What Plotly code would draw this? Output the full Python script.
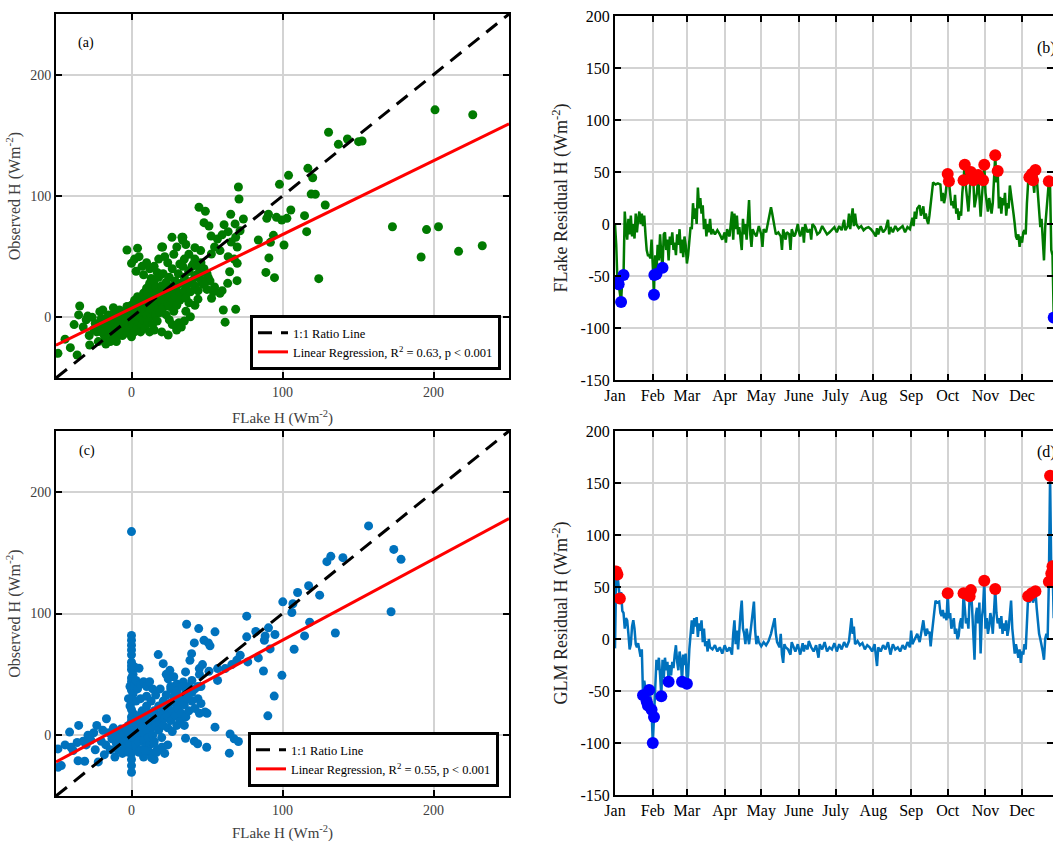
import plotly.graph_objects as go

# ---------------- DATA ----------------
# Panel (a): FLake H vs observed H  (pairs)
scatter_a = [
    (201,171),(226,167),(130.5,152.5),(137,142.6),(143,147),(150.4,144.8),(152.7,145.3),(116.8,122.8),
    (120,115),(104,117),(98,109.6),(119,101.6),(121.7,101.4),(128.3,92.6),(105.5,88.5),(114.6,83.8),
    (116,70.6),(90.7,85),(89.6,81.6),(96,82.4),(99.5,80.2),(102.9,81.6),(84,63.7),(92,61.8),(94,67.6),
    (91,49),(101,59.6),(89,37),(94.7,32.7),(124,31.9),(172.8,74.7),(195.4,72.3),(203.3,74.7),(191.8,49.7),
    (216.6,54.4),(232.3,59),
    (70.8,107.4),(71.2,97.5),(65.7,85),(74.1,81),(68.6,77),(71.9,71.4),(64,70.6),(69,66),(66,62),(70,58),
    (64,50),(68,48),(70,44.5),(65,37.6),(63.7,28),(69.9,30.2),(60.8,6),(62,-4),(69,6.6),(44.7,90.7),
    (48.9,87.4),(48,78),(51.3,75.3),(52.7,67),(56.9,64.6),(52.9,52.2),(58.6,55),(61.3,76.4),(60,68),
    (55,58),(45.8,55),(42,57.4),(50.9,32.7),(54.2,21),(58.6,19.8),(50,23),(53,15.7),(47,28),(45,35),
    (48,40),(52,30),(55,25),(60,22),(46,45),(42,48),(40,42),(38,52),(36,60),(34,66),(33.8,63.7),
    (26.8,66),(33.4,66),(30,58),(28,52),(35,48),(32,44),(38,38),(42,33),(44,22),
    (-3,55.5),(4,57),(0,44.5),(2,48),(5,50),(7,42),(10,45),(12,40),(3,38),(8,35),(15,42),(18,48),
    (20,58),(22,50),(24,45),(20.6,58),(17,37),(13,32),
    (24.3,-14.6),(15,-10.4),(29.9,-10.4),(31.4,-4.4),(35,-3),(39,0.5),(20,-12),(27,-6),(33,-8),(25,-2),
    (36,5),(42,10),(44,15),(38,12),
    (-48.7,-29.7),(-40.5,-25),(-36,-31),(-38,-6),(-35,2),(-34.3,9.3),(-30,-2),(-29,1),(-27.7,-22.8),
    (-25,-10),(-24,-5),(-22,-20),(-21,4.7),(-20,-1),(-20,-8),(-18,-15),(-17,-22),(-16,-5),(-15,2),
    (-14,-12),(-13,-18),(-12,8),(-12,-3),(-11,-9),(-10,-20),(-10,1),(-9,4),(-8,-14),(-32,-8),(-28,-15),
    (-26,0),(-23,-12),(-19,6),(-44,-18),
    (-20,-12),(-18,-5),(-17,-18),(-16,0),(-15,-10),(-14,-20),(-13,-4),(-12,-14),(-11,3),(-10,-8),
    (-10,-17),(-9,-2),(-8,-12),(-8,6),(-7,-6),(-6,-15),(-6,1),(-5,-9),(-4,4),(-4,-3),(-3,-13),(-3,9),
    (-2,-6),(-2,2),(-1,-10),(-1,6),(0,-3),(0,-16),(0,10),(1,1),(1,-7),(2,5),(2,-12),(2,14),(3,-2),(3,8),
    (4,-8),(4,1),(4,17),(5,4),(5,-4),(5,11),(6,-12),(6,0),(6,8),(7,14),(7,-6),(7,3),(8,20),(8,-2),(8,10),
    (9,5),(9,-9),(9,15),(10,2),(10,24),(10,9),(11,-4),(11,13),(11,19),(12,6),(12,-12),(12,28),(13,1),
    (13,11),(13,16),(14,22),(14,5),(14,-6),(15,9),(15,14),(15,30),(16,2),(16,18),(16,25),(17,7),(17,12),
    (17,-3),(18,21),(18,10),(18,33),(19,15),(19,4),(20,26),(20,12),(20,19),(21,8),(21,36),(22,16),
    (22,23),(23,2),(23,29),(24,12),(24,20),(25,33),(25,9),(26,18),(26,25),(27,40),(27,14),(28,22),(28,5),
    (29,30),(29,17),(30,26),(30,10),(31,36),(32,20),(32,14),(33,28),(34,42),(35,22),(35,33),(36,16),
    (37,27),(38,38),(39,21),(40,30),(41,44),(42,26),(43,35),(44,22),(45,40),(46,31),(48,27),(50,36),
]

# Panel (c): GLM-run scatter (pairs)
scatter_c = [
    (0,167.3),(157,172),(173.7,152.7),(178.5,144.5),(171.9,101.4),(140,145.9),(132,147),(129.4,142.6),
    (117.3,122.8),(110,117.3),(124.6,115.1),(100.2,109.6),(106.9,108),(106.2,100.8),(118,92.9),
    (114.6,81.6),(135,84),(107.7,70.6),(76.3,97.8),(76.3,80.8),(82.3,85.2),(90.7,88.2),(95,82.7),
    (88.5,81.6),(88,78),(91.8,70.9),(84,63.5),(77,60.2),(72,65.7),(69.7,61.5),(66.4,58),(62,54.7),
    (57,54.7),(87.4,52.7),(99.6,49.2),(94.5,32.1),(90.3,15.9),(89.2,-3),(65.3,1),(70.8,-5.2),(64.8,-14.8),
    (68,-3),(49.8,-9.9),(43.8,-7.1),(41.6,-4.9),(35.8,-2.5),(55.3,6.6),(48.7,19),(50,18),(57,45),
    (44.5,87.6),(36.5,91.2),(55.3,84.9),(48,78),(50.9,75.8),(52,73.4),(41.6,75.8),(39.8,67),(38.7,61.5),
    (44.9,54.7),(45,50),(51.3,52.5),(17.7,66.2),(21,58.8),(25.4,53.3),(23,50),(35.8,52),(34.3,43.7),
    (38,40),(24.3,46.4),(28,48),(30,42),(40,45),(42,38),(44,30),(46,26),(40,28),(36,35),(33,30),(30,25),
    (28,32),(26,38),(46,40),(47,58),
    (0,82),(0,78),(0,74),(0,70),(0,66),(0,60),(0,57),(0,54),(1,50),(0,47),(0,44),(-1,40),(0,37),(1,34),
    (0,30),(0,27),(-1,24),(0,21),(1,18),(0,15),(0,12),(0,9),(1,6),(0,3),(0,0),(-1,-3),(0,-6),(0,-9),
    (1,-12),(0,-15),(0,-20),(0,-25),(0,-30.5),(2,56),(2,42),(3,28),(-2,30),(2,12),(-2,8),(3,45),(4,38),
    (5,55),(6,42),(8,44),(10,40),(12,44),(14,38),(10,32),(6,30),
    (-48.7,-11.3),(-48.7,-26.4),(-46.5,-25),(-41,2.5),(-35,8),(-38.7,-12.6),(-35.4,-21),(-31,-21.4),
    (-22,-22),(-23,8),(-16.6,13.5),(-28.8,0),(-32,-5),(-44,-8),(-40,-10),(-36,-6),(-30,-8),(-27,-4),
    (-25,2),(-24,-12),(-20,-5),(-19,4),(-18,-16),(-17,-8),(-15,2),(-14,-12),(-13,-3),(-12,6),(-11,-18),
    (-10,-7),(-10,2),(-9,-12),(-8,-2),(-7,5),(-6,-15),(-6,-6),(-5,1),(-4,-10),(-3,-4),(-3,4),(-2,-14),
    (-1,-7),
    (2,-3),(2,4),(3,-8),(3,10),(4,0),(4,16),(5,-5),(5,6),(6,12),(6,-12),(7,2),(7,20),(8,-4),(8,8),(9,14),
    (9,-10),(10,4),(10,24),(11,-2),(11,10),(12,18),(12,-8),(13,6),(13,28),(14,12),(14,0),(15,20),(15,-5),
    (16,8),(16,33),(17,15),(17,-12),(18,24),(18,4),(19,10),(19,38),(20,18),(20,-2),(21,28),(21,8),
    (22,14),(22,-15),(23,22),(23,33),(24,6),(24,16),(25,26),(26,12),(26,40),(27,20),(27,3),(28,30),
    (29,16),(30,8),(30,36),(31,22),(32,12),(32,28),(33,18),(34,40),(35,25),(35,8),(36,15),(37,30),
    (38,20),(40,35),(42,22),(44,40),(45,18),(18,-12),(14,-16),(20,-10),(24,-8),(12,-14),(8,-18),(15,-20),
    (5,-14),(14.8,-6.6),(13.3,-18.7),(8.8,-12.6),(20.6,-9.9),(16.6,-14),
]

ratio_x = [-50, 250]
ratio_y = [-50, 250]
reg_a_x = [-50, 250]
reg_a_y = [-23, 159.5]
reg_c_x = [-50, 250]
reg_c_y = [-22, 178]
legend_a_text = "Linear Regression, R<sup>2</sup> = 0.63, p &lt; 0.001"
legend_c_text = "Linear Regression, R<sup>2</sup> = 0.55, p &lt; 0.001"

# Panel (b): FLake residual time series (day of year, W m-2)
flake_resid = [
    (0,0),(1,-20),(2,-55),(3,-58),(5,-75),(6,-52),(7,-49),(8,12),(9,-5),(10,-15),(11,5),(12,-10),(13,8),
    (14,-12),(15,0),(16,-14),(17,10),(18,-8),(19,5),(20,12),(21,0),(22,10),(23,-2),(24,8),(25,-10),
    (26,-25),(27,-30),(28,-30),(29,-33),(30,-15),(31,-40),(32,-68),(32.3,-49),(33,-30),(34,-48),(35,-20),
    (36,-35),(37,-10),(38,-30),(39,-42),(40,-10),(41,-8),(42,-25),(43,-15),(44,-35),(45,-12),(46,-20),
    (47,-8),(48,-25),(49,-18),(50,-30),(51,-10),(52,-20),(53,-5),(54,-28),(55,-15),(56,-32),(57,-12),
    (58,-20),(59,-38),(60,-30),(61,-15),(62,-3),(63,-5),(64,20),(65,5),(66,15),(67,0),(68,35),(69,15),
    (70,25),(71,10),(72,18),(73,-5),(74,5),(75,-12),(76,0),(77,-8),(78,5),(79,-10),(80,-5),(82,-10),
    (84,-6),(86,-10),(88,-15),(90,-8),(91,-18),(92,-5),(94,-12),(96,12),(97,-15),(98,10),(99,-5),
    (100,8),(101,-10),(102,-3),(104,-25),(105,5),(106,-10),(107,0),(108,-15),(110,23),(111,-10),
    (112,-22),(113,-5),(114,-8),(116,-12),(118,-2),(120,-10),(121,-22),(122,-5),(124,-8),(126,5),
    (128,16),(129,10),(130,2),(131,-5),(132,-10),(134,-8),(136,-12),(137,-25),(138,-5),(140,-15),
    (141,-8),(143,-10),(144,-25),(145,-5),(147,-12),(148,-10),(150,0),(151,-8),(152,-12),(154,-3),
    (155,-18),(156,0),(158,-8),(160,-5),(161,-15),(162,0),(164,-3),(166,-10),(168,-8),(170,-2),
    (172,-6),(174,-10),(176,-8),(178,-5),(180,-3),(182,-8),(184,-2),(186,-6),(188,4),(189,-6),(191,-2),
    (192,10),(193,-5),(195,15),(196,-2),(197,10),(198,0),(200,-4),(202,-2),(204,-6),(206,-4),(208,-3),
    (210,-5),(212,-8),(214,-12),(215,-4),(216,-10),(218,-2),(220,-8),(222,-5),(224,4),(225,-10),
    (226,-3),(228,-8),(230,-2),(232,-6),(234,-4),(236,-2),(238,-8),(240,-3),(242,-5),(244,6),(245,-2),
    (246,12),(247,5),(248,15),(250,18),(251,8),(252,12),(253,17),(254,5),(255,10),(256,4),(257,0),
    (258,8),(259,20),(260,30),(261,40),(263,38),(265,39),(267,38),(268,22),(269,30),(270,20),(271,26),
    (272,35),(273,48),(274,41),(275,25),(276,18),(277,22),(278,15),(279,28),(280,10),(281,15),(282,4),
    (283,12),(284,8),(285,30),(286,42),(287,57),(288,35),(289,20),(290,12),(291,30),(292,50),(293,45),
    (294,42),(295,16),(296,25),(297,30),(298,47),(299,20),(300,7),(301,25),(302,42),(303,57),(304,30),
    (305,20),(306,12),(307,25),(308,15),(309,10),(310,20),(311,45),(312,66),(313,40),(314,51),(315,15),
    (316,26),(317,10),(318,25),(319,18),(320,30),(321,8),(322,20),(323,15),(324,37),(325,28),(326,15),
    (327,10),(328,0),(329,-12),(330,-15),(331,-10),(332,-22),(333,-12),(334,-18),(335,-8),(336,-6),
    (337,-10),(338,20),(339,40),(340,45),(341,38),(342,48),(343,42),(344,30),(345,52),(346,45),(347,26),
    (348,15),(349,-3),(350,5),(351,-20),(352,-35),(353,-3),(354,10),(355,20),(356,41),(357,35),
    (358,-25),(359,-30),(360,-90),(361,-60),
]
flake_high = [(273,48),(274,41),(286,42),(287,57),(292,50),(294,42),(298,47),(302,42),(303,57),
              (312,66),(314,51),(340,45),(342,48),(343,42),(345,52),(356,41)]
flake_low = [(2,-55),(3,-58),(5,-75),(7,-49),(32,-68),(32.3,-49),(34,-48),(39,-42),(360,-90)]

# Panel (d): GLM residual time series (day of year, W m-2)
glm_resid = [
    (0,-9),(1,65),(2,62),(3,50),(4,39),(5,45),(6,27),(7,25),(8,10),(9,20),(10,18),(11,5),(12,-10),
    (13,-5),(14,12),(15,18),(16,10),(17,-5),(18,-8),(19,-4),(20,-12),(21,-17),(22,-10),(23,-54),
    (24,-40),(25,-48),(26,-60),(27,-64),(28,-49),(29,-55),(30,-68),(31,-100),(32,-75),(33,-45),(34,-20),
    (35,-30),(36,-18),(37,-35),(38,-55),(39,-20),(40,-38),(41,-18),(42,-30),(43,-22),(44,-41),(45,-25),
    (46,-35),(47,-22),(48,-28),(49,-15),(50,-6),(51,-22),(52,-30),(53,-12),(54,-20),(55,-41),(56,-15),
    (57,-25),(58,-14),(59,-43),(60,-35),(61,-10),(62,5),(63,18),(64,5),(65,20),(66,12),(67,21),(68,2),
    (69,15),(70,8),(71,18),(72,-3),(73,10),(74,-7),(75,-2),(76,-12),(77,0),(78,-8),(80,-10),(82,-6),
    (84,-12),(86,-8),(88,-14),(90,-6),(92,-12),(94,-8),(96,-15),(97,5),(98,18),(99,-5),(100,8),
    (101,-10),(102,10),(103,25),(104,37),(105,10),(106,5),(107,-5),(108,10),(109,0),(110,-5),(111,5),
    (112,15),(113,30),(114,36),(115,8),(116,-5),(117,3),(118,-3),(120,-7),(122,-3),(124,-6),(126,-2),
    (128,5),(130,15),(131,20),(132,5),(133,-3),(135,-8),(136,5),(137,-15),(138,-23),(139,-5),(140,-8),
    (142,-10),(144,-15),(145,-3),(147,-8),(148,-12),(150,-5),(152,-15),(154,-4),(155,-12),(156,-6),
    (158,-10),(159,-2),(161,-8),(163,-12),(165,-6),(167,-18),(168,-5),(170,-10),(172,-3),(174,-12),
    (176,-8),(178,-10),(180,-4),(182,-12),(184,-5),(186,-10),(188,-3),(190,-8),(192,-2),(194,20),
    (195,5),(196,12),(197,-5),(199,-2),(201,-6),(203,-4),(205,-10),(207,-6),(209,-8),(211,-12),
    (213,-5),(215,-26),(216,-8),(218,-12),(220,-6),(222,-10),(224,-3),(226,-15),(228,-5),(230,-10),
    (232,-8),(234,-12),(236,-6),(238,-10),(240,-3),(242,-8),(243,8),(244,-5),(246,0),(248,5),(250,-3),
    (252,12),(253,18),(254,8),(255,3),(256,10),(257,5),(258,7),(259,-7),(260,5),(261,15),(262,30),
    (263,37),(264,35),(266,36),(267,25),(268,22),(269,28),(270,20),(271,25),(272,18),(273,44),(274,20),
    (275,25),(276,10),(277,15),(278,20),(279,5),(280,10),(281,0),(282,3),(283,15),(284,20),(285,10),
    (286,44),(287,30),(288,15),(289,20),(290,10),(291,41),(292,47),(293,30),(294,10),(295,-20),
    (296,22),(297,30),(298,15),(299,35),(300,-14),(301,20),(302,30),(303,56),(304,10),(305,20),(306,5),
    (307,12),(308,25),(309,18),(310,5),(311,30),(312,48),(313,25),(314,15),(315,20),(316,10),(317,22),
    (318,5),(319,15),(320,8),(321,18),(322,3),(323,10),(324,25),(325,37),(326,10),(327,-5),(328,-14),
    (329,-5),(330,-10),(331,-18),(332,-10),(333,-23),(334,-12),(335,-15),(336,-5),(337,-10),(338,15),
    (339,41),(340,35),(341,38),(342,44),(343,35),(344,40),(345,46),(346,30),(347,12),(348,5),(349,0),
    (350,-5),(351,-12),(352,-20),(353,0),(354,5),(355,0),(356,55),(357,157),(358,63),(359,70),(360,20),
]
glm_high = [(1,65),(2,62),(4,39),(273,44),(286,44),(291,41),(292,47),(303,56),(312,48),
            (339,41),(342,44),(345,46),(356,55),(357,157),(358,63),(359,70)]
glm_low = [(23,-54),(26,-60),(27,-64),(28,-49),(30,-68),(31,-100),(32,-75),(38,-55),(44,-41),
           (55,-41),(59,-43)]

month_days = [0, 31, 59, 90, 120, 151, 181, 212, 243, 273, 304, 334]
month_names = ["Jan", "Feb", "Mar", "Apr", "May", "June", "July", "Aug", "Sep", "Oct", "Nov", "Dec"]
scatter_ticks = [0, 100, 200]
resid_ticks = [-150, -100, -50, 0, 50, 100, 150, 200]
resid_labels = ["-150", "-100", "-50", "0", "50", "100", "150", "200"]

# ---------------- FIGURE ----------------
W, H = 1053, 842
FONT = "Liberation Serif, Times New Roman, serif"
GREEN = "#007a00"
BLUE = "#0072BD"


def unzip(pairs):
    return [p[0] for p in pairs], [p[1] for p in pairs]


fig = go.Figure()

# (a)
ax, ay = unzip(scatter_a)
fig.add_trace(go.Scatter(x=ax, y=ay, mode="markers", xaxis="x", yaxis="y",
                         marker=dict(color=GREEN, size=9), showlegend=False))
fig.add_trace(go.Scatter(x=ratio_x, y=ratio_y, mode="lines", xaxis="x", yaxis="y",
                         line=dict(color="black", width=3, dash="14px,9px"),
                         name="1:1 Ratio Line", legend="legend"))
fig.add_trace(go.Scatter(x=reg_a_x, y=reg_a_y, mode="lines", xaxis="x", yaxis="y",
                         line=dict(color="#ff0000", width=3), name=legend_a_text, legend="legend"))

# (c)
cx, cy = unzip(scatter_c)
fig.add_trace(go.Scatter(x=cx, y=cy, mode="markers", xaxis="x3", yaxis="y3",
                         marker=dict(color=BLUE, size=9), showlegend=False))
fig.add_trace(go.Scatter(x=ratio_x, y=ratio_y, mode="lines", xaxis="x3", yaxis="y3",
                         line=dict(color="black", width=3, dash="14px,9px"),
                         name="1:1 Ratio Line", legend="legend2"))
fig.add_trace(go.Scatter(x=reg_c_x, y=reg_c_y, mode="lines", xaxis="x3", yaxis="y3",
                         line=dict(color="#ff0000", width=3), name=legend_c_text, legend="legend2"))

# (b)
bx, by = unzip(flake_resid)
fig.add_trace(go.Scatter(x=bx, y=by, mode="lines", xaxis="x2", yaxis="y2",
                         line=dict(color=GREEN, width=2.5), showlegend=False))
hx, hy = unzip(flake_high)
fig.add_trace(go.Scatter(x=hx, y=hy, mode="markers", xaxis="x2", yaxis="y2",
                         marker=dict(color="#ff0000", size=12), showlegend=False))
lx, ly = unzip(flake_low)
fig.add_trace(go.Scatter(x=lx, y=ly, mode="markers", xaxis="x2", yaxis="y2",
                         marker=dict(color="#0000ff", size=12), showlegend=False))

# (d)
dx, dy = unzip(glm_resid)
fig.add_trace(go.Scatter(x=dx, y=dy, mode="lines", xaxis="x4", yaxis="y4",
                         line=dict(color=BLUE, width=2.5), showlegend=False))
hx, hy = unzip(glm_high)
fig.add_trace(go.Scatter(x=hx, y=hy, mode="markers", xaxis="x4", yaxis="y4",
                         marker=dict(color="#ff0000", size=12), showlegend=False))
lx, ly = unzip(glm_low)
fig.add_trace(go.Scatter(x=lx, y=ly, mode="markers", xaxis="x4", yaxis="y4",
                         marker=dict(color="#0000ff", size=12), showlegend=False))


def px_x(p):
    return p / W


def px_y(p):
    return 1 - p / H


frame = dict(showline=True, linewidth=2, linecolor="black", mirror="ticks",
             ticks="inside", ticklen=6, tickwidth=2, tickcolor="black", automargin=False,
             showgrid=True, gridcolor="#d3d3d3", gridwidth=2, zeroline=False)

sc_tick = dict(family=FONT, size=14, color="#404040")
ts_tick = dict(family=FONT, size=16, color="black")

fig.update_layout(
    width=W, height=H, margin=dict(l=0, r=0, t=0, b=0, autoexpand=False),
    paper_bgcolor="white", plot_bgcolor="white",
    font=dict(family=FONT, color="black"),
    hovermode=False,
    xaxis=dict(domain=[px_x(56), px_x(509)], range=[-50, 250], tickvals=scatter_ticks,
               anchor="y", tickfont=sc_tick,
               title=dict(text="FLake H (Wm<sup>-2</sup>)", font=dict(family=FONT, size=15, color="#404040"),
                          standoff=14), **frame),
    yaxis=dict(domain=[px_y(378), px_y(14)], range=[-50, 250], tickvals=scatter_ticks,
               anchor="x", tickfont=sc_tick,
               title=dict(text="Observed H (Wm<sup>-2</sup>)", font=dict(family=FONT, size=16, color="#404040"),
                          standoff=6), **frame),
    xaxis3=dict(domain=[px_x(56), px_x(509)], range=[-50, 250], tickvals=scatter_ticks,
                anchor="y3", tickfont=sc_tick,
                title=dict(text="FLake H (Wm<sup>-2</sup>)", font=dict(family=FONT, size=15, color="#404040"),
                           standoff=13), **frame),
    yaxis3=dict(domain=[px_y(796), px_y(431)], range=[-50, 250], tickvals=scatter_ticks,
                anchor="x3", tickfont=sc_tick,
                title=dict(text="Observed H (Wm<sup>-2</sup>)", font=dict(family=FONT, size=16, color="#404040"),
                           standoff=6), **frame),
    xaxis2=dict(domain=[px_x(615), 1.0], range=[0, 359.4], tickvals=month_days, ticktext=month_names,
                anchor="y2", tickfont=ts_tick, **frame),
    yaxis2=dict(domain=[px_y(380), px_y(16)], range=[-150, 200], tickvals=resid_ticks,
                ticktext=resid_labels, anchor="x2", tickfont=ts_tick,
                title=dict(text="FLake Residual H (Wm<sup>-2</sup>)", font=dict(family=FONT, size=18, color="#222"),
                           standoff=8), **frame),
    xaxis4=dict(domain=[px_x(615), 1.0], range=[0, 359.4], tickvals=month_days, ticktext=month_names,
                anchor="y4", tickfont=ts_tick, **frame),
    yaxis4=dict(domain=[px_y(795), px_y(431)], range=[-150, 200], tickvals=resid_ticks,
                ticktext=resid_labels, anchor="x4", tickfont=ts_tick,
                title=dict(text="GLM Residual H (Wm<sup>-2</sup>)", font=dict(family=FONT, size=18, color="#222"),
                           standoff=8), **frame),
    legend=dict(x=px_x(501), xanchor="right", y=px_y(370), yanchor="bottom",
                bgcolor="white", bordercolor="black", borderwidth=3,
                font=dict(family=FONT, size=12.5, color="black"), tracegroupgap=0),
    legend2=dict(x=px_x(499), xanchor="right", y=px_y(787), yanchor="bottom",
                 bgcolor="white", bordercolor="black", borderwidth=3,
                 font=dict(family=FONT, size=12.5, color="black"), tracegroupgap=0),
    annotations=[
        dict(text="(a)", x=px_x(76), y=px_y(33), xref="paper", yref="paper", showarrow=False,
             font=dict(family=FONT, size=14, color="black")),
        dict(text="(c)", x=px_x(77), y=px_y(451), xref="paper", yref="paper", showarrow=False,
             font=dict(family=FONT, size=14, color="black")),
        dict(text="(b)", x=px_x(1035), y=px_y(37), xref="paper", yref="paper", showarrow=False,
             xanchor="left", font=dict(family=FONT, size=16, color="black")),
        dict(text="(d)", x=px_x(1035), y=px_y(452), xref="paper", yref="paper", showarrow=False,
             xanchor="left", font=dict(family=FONT, size=16, color="black")),
    ],
)

fig.write_html("out.html", config={"displayModeBar": False, "staticPlot": True},
               post_script="document.body.style.margin='0';document.body.style.overflow='hidden';")
